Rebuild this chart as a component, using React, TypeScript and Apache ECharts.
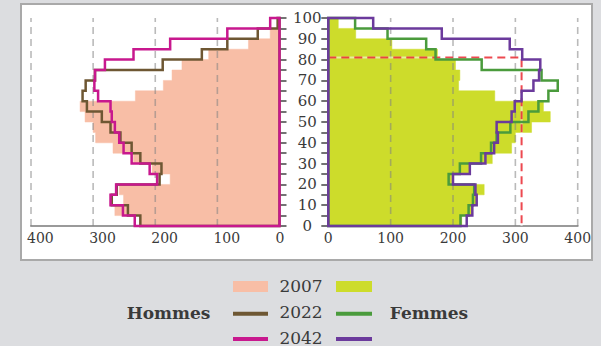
import React, { useEffect, useRef } from "react";
import * as echarts from "echarts";

// Age bands (start of each 5-year band)
const ageStarts = [0, 5, 10, 15, 20, 25, 30, 35, 40, 45, 50, 55, 60, 65, 70, 75, 80, 85, 90, 95];
const bandSize = 5;

// Hommes (left pyramid)
const hommes2007 = [225, 265, 251, 258, 176, 205, 235, 268, 296, 300, 313, 321, 232, 187, 173, 157, 114, 50, 15, 3];
const hommes2022 = [224, 244, 270, 262, 193, 190, 224, 238, 256, 272, 286, 310, 317, 312, 297, 188, 125, 84, 35, 3];
const hommes2042 = [233, 252, 272, 263, 197, 209, 238, 251, 258, 265, 270, 272, 292, 298, 297, 281, 235, 176, 84, 15];

// Femmes (right pyramid)
const femmes2007 = [214, 230, 238, 250, 198, 227, 263, 294, 300, 326, 356, 345, 267, 209, 211, 204, 175, 102, 44, 16];
const femmes2022 = [212, 225, 232, 234, 193, 211, 245, 261, 270, 292, 321, 337, 353, 368, 342, 246, 172, 157, 95, 43];
const femmes2042 = [222, 231, 238, 236, 200, 227, 252, 266, 272, 270, 294, 299, 310, 329, 338, 340, 311, 291, 182, 72];

// Dashed reference grid values and red reference marker
const gridValues = [100, 200, 300, 400];
const refAge = 81;
const refValue = 310;

const legendYears = ["2007", "2022", "2042"];

const FONT = "'DejaVu Serif', serif";
const C = {
  pink: "#f8bea6",
  lime: "#cddc2b",
  brown: "#6e5733",
  green: "#4a9b3c",
  magenta: "#c8188e",
  purple: "#6b3a9c",
  text: "#3a3a3a",
};

function pyramidSeries(values: number[], grid: number, style: any, z: number) {
  return {
    type: "custom",
    xAxisIndex: grid,
    yAxisIndex: grid,
    z,
    clip: false,
    silent: true,
    encode: { x: 0, y: 1 },
    data: values.map((v, i) => [v, ageStarts[i]]),
    renderItem: (params: any, api: any) => {
      if (params.dataIndex !== 0) return null;
      const pts: number[][] = [api.coord([0, 0])];
      values.forEach((v, i) => {
        pts.push(api.coord([v, ageStarts[i]]));
        pts.push(api.coord([v, ageStarts[i] + bandSize]));
      });
      pts.push(api.coord([0, ageStarts[ageStarts.length - 1] + bandSize]));
      return { type: "polygon", shape: { points: pts }, style };
    },
  };
}

function gridLineSeries(grid: number) {
  return {
    type: "custom",
    xAxisIndex: grid,
    yAxisIndex: grid,
    z: 3,
    silent: true,
    clip: false,
    encode: { x: 0, y: 1 },
    data: gridValues.map((v) => [v, 100]),
    renderItem: (params: any, api: any) => {
      const v = api.value(0);
      const p0 = api.coord([v, 0]);
      const p1 = api.coord([v, 100]);
      return {
        type: "line",
        shape: { x1: p0[0], y1: p0[1], x2: p1[0], y2: p1[1] },
        style: { stroke: "rgba(130,130,130,0.55)", lineWidth: 1.6, lineDash: [7, 5] },
      };
    },
  };
}

export default function App() {
  const ref = useRef<HTMLDivElement>(null);
  useEffect(() => {
    if (!ref.current) return;
    const chart = echarts.init(ref.current, undefined, { renderer: "svg" });
    const xAxisCommon = {
      type: "value",
      min: 0,
      max: 400,
      interval: 100,
      axisLine: { show: true, lineStyle: { color: "#9a9a9a", width: 2 } },
      axisTick: { show: false },
      splitLine: { show: false },
    };
    const yAxisCommon = {
      type: "value",
      min: 0,
      max: 100,
      interval: 5,
      axisLine: { show: false },
      axisTick: { show: true, length: 7, lineStyle: { color: "#444", width: 1.5 } },
      splitLine: { show: false },
    };
    const option: any = {
      animation: false,
      backgroundColor: "#dcdde0",
      grid: [
        { left: 31, top: 18, width: 248.5, height: 208 },
        { left: 328.3, top: 18, width: 249.4, height: 208 },
      ],
      xAxis: [
        {
          ...xAxisCommon,
          gridIndex: 0,
          inverse: true,
          axisLabel: {
            fontFamily: FONT,
            fontSize: 14,
            color: C.text,
            margin: 5,
            align: "left",
            padding: [0, 0, 0, -4],
          },
        },
        {
          ...xAxisCommon,
          gridIndex: 1,
          axisLabel: { fontFamily: FONT, fontSize: 14, color: C.text, margin: 5 },
        },
      ],
      yAxis: [
        { ...yAxisCommon, gridIndex: 0, position: "right", axisLabel: { show: false } },
        {
          ...yAxisCommon,
          gridIndex: 1,
          position: "left",
          axisLabel: {
            show: true,
            fontFamily: FONT,
            fontSize: 15,
            color: C.text,
            align: "center",
            margin: 21,
            formatter: (v: number) => (v % 10 === 0 ? String(v) : ""),
          },
        },
      ],
      graphic: [
        {
          type: "rect",
          z: -10,
          silent: true,
          shape: { x: 21, y: 4, width: 571, height: 256 },
          style: { fill: "#ffffff", stroke: "#a9a9a9", lineWidth: 2 },
        },
        { type: "rect", shape: { x: 233, y: 281, width: 35, height: 11 }, style: { fill: C.pink } },
        { type: "rect", shape: { x: 336, y: 281, width: 36, height: 11 }, style: { fill: C.lime } },
        { type: "line", shape: { x1: 233, y1: 313.7, x2: 268, y2: 313.7 }, style: { stroke: C.brown, lineWidth: 4 } },
        { type: "line", shape: { x1: 336, y1: 313.7, x2: 372, y2: 313.7 }, style: { stroke: C.green, lineWidth: 4 } },
        { type: "line", shape: { x1: 233, y1: 339, x2: 268, y2: 339 }, style: { stroke: C.magenta, lineWidth: 4 } },
        { type: "line", shape: { x1: 336, y1: 339, x2: 372, y2: 339 }, style: { stroke: C.purple, lineWidth: 4 } },
        ...legendYears.map((t, i) => ({
          type: "text",
          x: 301,
          y: [285.5, 312, 337.5][i],
          style: {
            text: t,
            fontFamily: FONT,
            fontSize: 17,
            fill: C.text,
            align: "center",
            verticalAlign: "middle",
          },
        })),
        {
          type: "text",
          x: 168.5,
          y: 313,
          style: {
            text: "Hommes",
            fontFamily: FONT,
            fontSize: 17,
            fontWeight: "bold",
            fill: C.text,
            align: "center",
            verticalAlign: "middle",
          },
        },
        {
          type: "text",
          x: 429,
          y: 313,
          style: {
            text: "Femmes",
            fontFamily: FONT,
            fontSize: 17,
            fontWeight: "bold",
            fill: C.text,
            align: "center",
            verticalAlign: "middle",
          },
        },
      ],
      series: [
        pyramidSeries(hommes2007, 0, { fill: C.pink, stroke: C.pink, lineWidth: 0.5 }, 1),
        pyramidSeries(femmes2007, 1, { fill: C.lime, stroke: C.lime, lineWidth: 0.5 }, 1),
        gridLineSeries(0),
        gridLineSeries(1),
        {
          type: "line",
          xAxisIndex: 1,
          yAxisIndex: 1,
          z: 4,
          silent: true,
          symbol: "none",
          data: [[0, refAge], [refValue, refAge], [refValue, 0]],
          lineStyle: { color: "rgba(255,255,255,0.55)", width: 2.2 },
        },
        {
          type: "line",
          xAxisIndex: 1,
          yAxisIndex: 1,
          z: 4,
          silent: true,
          symbol: "none",
          data: [[0, refAge], [refValue, refAge], [refValue, 0]],
          lineStyle: { color: "rgba(232,28,36,0.8)", width: 2, type: [8, 5] },
        },
        pyramidSeries(hommes2022, 0, { fill: "none", stroke: C.brown, lineWidth: 2.5, lineJoin: "miter" }, 5),
        pyramidSeries(femmes2022, 1, { fill: "none", stroke: C.green, lineWidth: 2.5, lineJoin: "miter" }, 5),
        pyramidSeries(hommes2042, 0, { fill: "none", stroke: C.magenta, lineWidth: 2.5, lineJoin: "miter" }, 6),
        pyramidSeries(femmes2042, 1, { fill: "none", stroke: C.purple, lineWidth: 2.5, lineJoin: "miter" }, 6),
      ],
    };
    chart.setOption(option);
    return () => chart.dispose();
  }, []);
  return (
    <div
      ref={ref}
      style={{ position: "fixed", left: 0, top: 0, width: 601, height: 346 }}
    />
  );
}
